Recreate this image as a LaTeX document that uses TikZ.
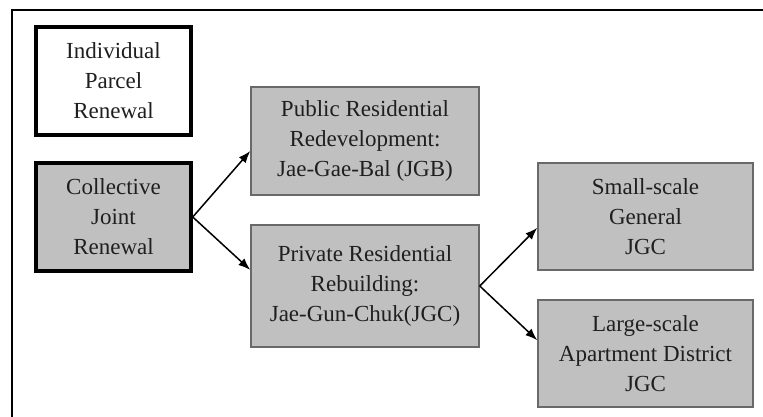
\documentclass[tikz,border=0pt]{standalone}
\usepackage{fontspec}
\setmainfont{Liberation Serif}
\usetikzlibrary{arrows.meta}
\definecolor{boxgray}{RGB}{192,192,192}
\definecolor{edgegray}{RGB}{105,105,105}

\begin{document}
\begin{tikzpicture}[x=1pt, y=-1pt,
  every node/.style={font=\fontsize{23}{30}\selectfont, align=center, text=black!88},
  bold/.style={draw=black, line width=3.5pt, minimum width=155pt, minimum height=108pt},
  shaded/.style={draw=edgegray, line width=1.5pt, fill=boxgray},
  link/.style={-{Latex[length=12pt,width=9pt]}, line width=1.5pt}]
  \useasboundingbox (0,0) rectangle (763,417);
  % Frame (top and left side only)
  \draw[line width=2pt] (12,417) -- (12,10.5) -- (763,10.5);

  % Renewal types
  \node[bold] (indiv) at (113.5,81) {Individual\\Parcel\\Renewal};
  \node[bold, fill=boxgray] (coll) at (113.5,217) {Collective\\Joint\\Renewal};

  % Redevelopment / rebuilding
  \node[shaded, minimum width=228pt, minimum height=108pt] (jgb) at (365,141) {Public Residential\\Redevelopment:\\Jae-Gae-Bal (JGB)};
  \node[shaded, minimum width=228pt, minimum height=122pt] (jgc) at (365,286) {Private Residential\\Rebuilding:\\Jae-Gun-Chuk(JGC)};

  % JGC kinds
  \node[shaded, minimum width=215pt, minimum height=107pt] (small) at (645.5,216.5) {Small-scale\\General\\JGC};
  \node[shaded, minimum width=215pt, minimum height=107pt] (large) at (645.5,353.5) {Large-scale\\Apartment District\\JGC};

  % Arrows
  \draw[link] (coll.east) -- (jgb.185);
  \draw[link] (coll.east) -- (jgc.172);
  \draw[link] (jgc.east) -- (small.186);
  \draw[link] (jgc.east) -- (large.173);
\end{tikzpicture}
\end{document}
